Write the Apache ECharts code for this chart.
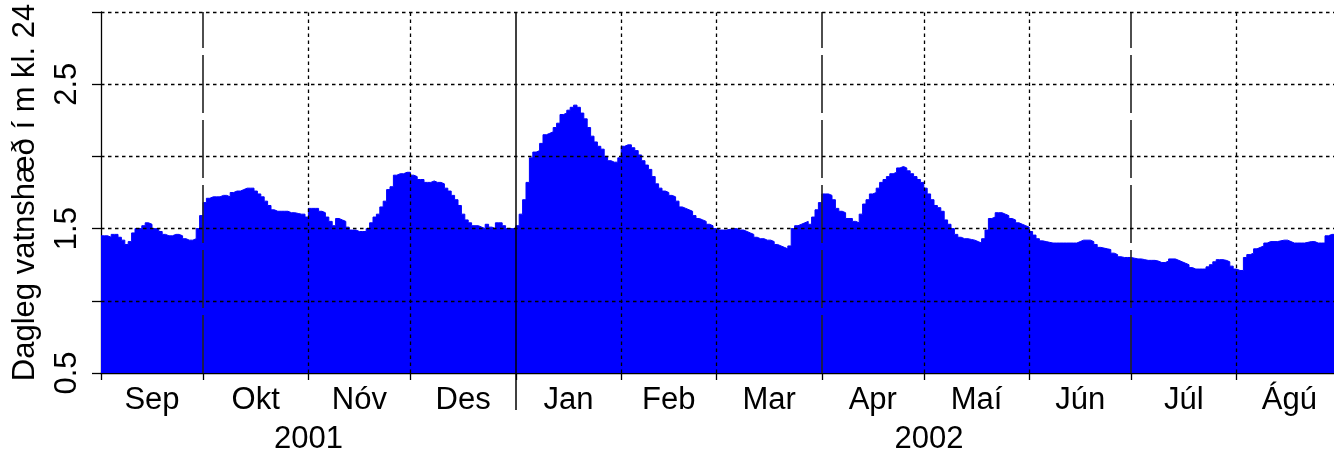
<!DOCTYPE html>
<html><head><meta charset="utf-8">
<script src="https://cdn.jsdelivr.net/npm/echarts@6/dist/echarts.min.js"></script>
<style>html,body{margin:0;padding:0;background:#fff}#c{width:1334px;height:450px}</style>
</head><body><div id="c"></div>
<script>
// ---- data ----
const monthNames = ['Sep','Okt','Nóv','Des','Jan','Feb','Mar','Apr','Maí','Jún','Júl','Ágú'];
const monthDays  = [30,31,30,31,31,28,31,30,31,30,31,31];
const years = ['2001','2002'];
const yearMonthCount = [4, 8];
const yTicks = [0.5,1.0,1.5,2.0,2.5,3.0];
const yLabels = ['0.5','1.5','2.5'];
const yTitle = 'Dagleg vatnshæð í m kl. 24';

const sep = [1.45,1.45,1.44,1.46,1.46,1.44,1.42,1.39,1.41,1.47,1.50,1.50,1.52,1.54,1.53,1.50,1.50,1.48,1.46,1.45,1.45,1.46,1.46,1.45,1.43,1.42,1.42,1.43,1.50,1.59];
const okt = [1.68,1.71,1.72,1.72,1.72,1.73,1.73,1.72,1.75,1.76,1.76,1.77,1.78,1.78,1.78,1.76,1.74,1.72,1.69,1.66,1.63,1.62,1.62,1.62,1.62,1.61,1.61,1.605,1.60,1.60,1.58];
const nov = [1.64,1.64,1.64,1.62,1.61,1.58,1.55,1.52,1.57,1.56,1.55,1.51,1.49,1.49,1.48,1.48,1.48,1.50,1.54,1.58,1.60,1.65,1.69,1.77,1.79,1.87,1.88,1.88,1.89,1.89];
const des = [1.87,1.86,1.84,1.84,1.82,1.82,1.83,1.82,1.82,1.81,1.78,1.76,1.73,1.70,1.66,1.60,1.56,1.54,1.52,1.52,1.51,1.50,1.53,1.51,1.50,1.54,1.54,1.52,1.50,1.50,1.50];
const jan = [1.52,1.60,1.70,1.82,1.99,2.03,2.04,2.09,2.15,2.16,2.17,2.20,2.23,2.29,2.30,2.32,2.34,2.355,2.34,2.30,2.26,2.20,2.14,2.10,2.07,2.05,2.00,1.97,1.96,1.96,1.99];
const feb = [2.07,2.08,2.08,2.06,2.04,2.01,1.97,1.94,1.91,1.86,1.81,1.78,1.76,1.75,1.73,1.72,1.69,1.65,1.64,1.63,1.62,1.59,1.57,1.56,1.55,1.53,1.52,1.50];
const mar = [1.49,1.49,1.49,1.495,1.50,1.50,1.49,1.49,1.48,1.47,1.46,1.44,1.43,1.43,1.42,1.42,1.41,1.39,1.38,1.37,1.36,1.38,1.50,1.52,1.53,1.54,1.55,1.53,1.58,1.63,1.68];
const apr = [1.74,1.74,1.73,1.70,1.64,1.62,1.61,1.57,1.57,1.55,1.54,1.60,1.67,1.70,1.74,1.75,1.78,1.82,1.84,1.86,1.88,1.89,1.92,1.93,1.92,1.90,1.88,1.86,1.84,1.82];
const mai = [1.78,1.74,1.70,1.66,1.645,1.62,1.56,1.53,1.50,1.46,1.44,1.43,1.43,1.425,1.42,1.41,1.40,1.43,1.49,1.57,1.58,1.61,1.61,1.60,1.59,1.57,1.56,1.54,1.53,1.52,1.51];
const jun = [1.48,1.455,1.43,1.415,1.41,1.405,1.40,1.40,1.40,1.40,1.40,1.40,1.40,1.40,1.41,1.42,1.42,1.42,1.41,1.39,1.37,1.365,1.36,1.355,1.33,1.32,1.305,1.30,1.30,1.30];
const jul = [1.295,1.29,1.29,1.285,1.28,1.28,1.28,1.275,1.265,1.265,1.275,1.29,1.29,1.28,1.27,1.26,1.25,1.23,1.22,1.22,1.22,1.22,1.235,1.25,1.27,1.285,1.285,1.28,1.27,1.24,1.22];
const agu = [1.21,1.21,1.30,1.32,1.33,1.36,1.37,1.38,1.40,1.41,1.41,1.41,1.415,1.42,1.42,1.41,1.40,1.40,1.40,1.40,1.405,1.41,1.41,1.40,1.40,1.40,1.45,1.46,1.46,1.46,1.46];

// ---- derived ----
const daily = [].concat(sep, okt, nov, des, jan, feb, mar, apr, mai, jun, jul, agu);
const totalDays = daily.length;
const bounds = [0];
monthDays.forEach(d => bounds.push(bounds[bounds.length - 1] + d));
const mids = monthDays.map((d, i) => bounds[i] + d / 2);
const yearBounds = [0];
let mi = 0;
yearMonthCount.forEach(c => { mi += c; yearBounds.push(bounds[mi]); });
const yearMids = years.map((y, i) => (yearBounds[i] + yearBounds[i + 1]) / 2);

const seriesData = daily.map((v, i) => [i, v]);
seriesData.push([totalDays, daily[totalDays - 1]]);

function nearestName(v, arr, names) {
  let best = 0, bd = Infinity;
  arr.forEach((a, i) => { const d = Math.abs(a - v); if (d < bd) { bd = d; best = i; } });
  return names[best];
}

const FONT = 'Liberation Sans, Arial, Helvetica, sans-serif';
const dotted = { type: [3.5, 3.5], color: '#000', width: 1.3 };
const longDash = { type: [58, 7], color: '#222', width: 1.6 };
const solid = { type: 'solid', color: '#000', width: 1.5 };

const quarterIdx = [1, 7, 10];
const yearIdx = [4];
const mlData = [];
for (let i = 1; i < monthDays.length; i++) {
  let st = dotted;
  if (yearIdx.includes(i)) st = solid;
  else if (quarterIdx.includes(i)) st = longDash;
  mlData.push({ xAxis: bounds[i], lineStyle: st });
}
yTicks.slice(1).forEach(t => mlData.push({ yAxis: t, lineStyle: dotted }));

const chart = echarts.init(document.getElementById('c'), null, { renderer: 'canvas' });
chart.setOption({
  animation: false,
  backgroundColor: '#fff',
  grid: { left: 101, top: 12, width: 1241, height: 361, containLabel: false, outerBoundsMode: 'none' },
  xAxis: [
    {
      type: 'value', position: 'bottom', min: 0, max: totalDays,
      axisLine: { show: true, onZero: false, lineStyle: { color: '#000', width: 1.3 } },
      axisTick: { show: true, customValues: bounds, length: 7, lineStyle: { color: '#000', width: 1.3 } },
      axisLabel: { show: true, customValues: mids, margin: 12, color: '#000', fontSize: 31, fontFamily: FONT,
        formatter: v => nearestName(v, mids, monthNames) },
      splitLine: { show: false }
    },
    {
      type: 'value', position: 'bottom', min: 0, max: totalDays,
      axisLine: { show: false },
      axisTick: { show: false },
      axisLabel: { show: true, customValues: yearMids, margin: 51, color: '#000', fontSize: 31, fontFamily: FONT,
        formatter: v => nearestName(v, yearMids, years) },
      splitLine: { show: false }
    },
    {
      type: 'value', position: 'bottom', min: 0, max: totalDays,
      axisLine: { show: false },
      axisTick: { show: true, customValues: yearBounds.slice(1, -1), length: 37, lineStyle: { color: '#000', width: 1.5 } },
      axisLabel: { show: false },
      splitLine: { show: false }
    }
  ],
  yAxis: {
    type: 'value', min: yTicks[0], max: yTicks[yTicks.length - 1], interval: 0.5,
    name: yTitle, nameLocation: 'middle', nameGap: 60,
    nameTextStyle: { color: '#000', fontSize: 31, fontFamily: FONT },
    axisLine: { show: true, lineStyle: { color: '#000', width: 1.3 } },
    axisTick: { show: true, length: 9, lineStyle: { color: '#000', width: 1.3 } },
    axisLabel: { rotate: 90, margin: 18, color: '#000', fontSize: 31, fontFamily: FONT,
      formatter: v => { const s = v.toFixed(1); return yLabels.includes(s) ? s : ''; } },
    splitLine: { show: false }
  },
  series: [{
    type: 'line', xAxisIndex: 0, step: 'end', symbol: 'none', data: seriesData, z: 2,
    lineStyle: { color: '#0000ff', width: 1 },
    areaStyle: { color: '#0000ff', opacity: 1, origin: 'start' },
    markLine: { silent: true, z: 6, symbol: ['none', 'none'], label: { show: false }, data: mlData }
  }]
});
</script></body></html>
